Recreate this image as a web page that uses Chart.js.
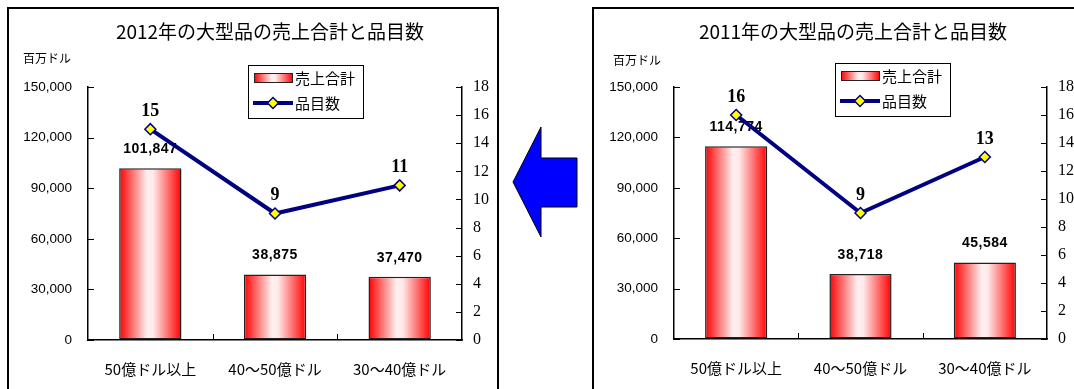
<!DOCTYPE html>
<html>
<head>
<meta charset="utf-8">
<script src="https://cdn.jsdelivr.net/npm/chart.js@4.4.1/dist/chart.umd.min.js"></script>
<style>
  html, body { margin: 0; padding: 0; background: #fff; overflow: hidden; width: 1074px; height: 389px; }
  .box { position: absolute; top: 7px; width: 488px; height: 400px; border: 2px solid #000; background: #fff; }
  .box canvas { position: absolute; left: 0; top: 0; }
  #arrow { position: absolute; left: 0; top: 0; }
</style>
</head>
<body>
<div class="box" style="left:7px"><canvas id="chart2012" width="488" height="380"></canvas></div>
<svg id="arrow" width="1074" height="389">
  <polygon points="513,182 541,127 541,158 577,158 577,207 541,207 541,237" fill="#0000ff" stroke="#000" stroke-width="1"/>
</svg>
<div class="box" style="left:592px"><canvas id="chart2011" width="488" height="380"></canvas></div>

<script>
const categories = ['50億ドル以上', '40～50億ドル', '30～40億ドル'];
const sales2012 = [101847, 38875, 37470];
const items2012 = [15, 9, 11];
const sales2011 = [114774, 38718, 45584];
const items2011 = [16, 9, 13];
const salesMax = 150000, salesStep = 30000;
const itemsMax = 18, itemsStep = 2;

const JP = '"Noto Sans CJK JP", sans-serif';

function barGradient(ctx, x0, x1) {
    const g = ctx.createLinearGradient(x0, 0, x1, 0);
    g.addColorStop(0, '#ff0000');
    g.addColorStop(0.45, '#fff0f0');
    g.addColorStop(0.55, '#ffe8e8');
    g.addColorStop(1, '#ff0000');
    return g;
}

const decor = {
    id: 'decor',
    beforeDatasetsDraw(chart) {
        // gradient fill per bar, from the bar element's own geometry
        chart.getDatasetMeta(0).data.forEach(bar => {
            bar.options = Object.assign({}, bar.options, {
                backgroundColor: barGradient(chart.ctx, bar.x - bar.width / 2, bar.x + bar.width / 2)
            });
        });
    },
    afterDatasetDraw(chart, args) {
        // bar labels go under the line
        if (args.index !== 0) return;
        const ctx = chart.ctx;
        ctx.save();
        ctx.fillStyle = '#000';
        ctx.font = 'bold 14px "Liberation Sans", Arial, sans-serif';
        ctx.letterSpacing = '0.5px';
        ctx.textAlign = 'center';
        ctx.textBaseline = 'middle';
        args.meta.data.forEach((bar, i) => {
            const v = chart.data.datasets[0].data[i];
            ctx.fillText(v.toLocaleString('en-US'), bar.x, bar.y - 19);
        });
        ctx.restore();
    },
    afterDatasetsDraw(chart, args, opts) {
        const ctx = chart.ctx;
        const { x, y, y1 } = chart.scales;
        ctx.save();

        // line labels
        ctx.fillStyle = '#000';
        ctx.font = 'bold 18px "Liberation Serif", "Times New Roman", serif';
        ctx.textAlign = 'center';
        ctx.textBaseline = 'middle';
        chart.getDatasetMeta(1).data.forEach((pt, i) => {
            ctx.fillText(String(chart.data.datasets[1].data[i]), pt.x, pt.y - 18);
        });

        // inside tick marks
        ctx.strokeStyle = '#000';
        ctx.lineWidth = 1;
        ctx.beginPath();
        y.ticks.forEach(t => {
            const py = Math.round(y.getPixelForValue(t.value)) + 0.5;
            ctx.moveTo(y.right, py); ctx.lineTo(y.right + 6, py);
        });
        y1.ticks.forEach(t => {
            const py = Math.round(y1.getPixelForValue(t.value)) + 0.5;
            ctx.moveTo(y1.left - 6, py); ctx.lineTo(y1.left, py);
        });
        for (let i = 0; i < categories.length - 1; i++) {
            const px = Math.round((x.getPixelForValue(i) + x.getPixelForValue(i + 1)) / 2) + 0.5;
            ctx.moveTo(px, x.top); ctx.lineTo(px, x.top - 6);
        }
        ctx.stroke();

        // title + unit
        ctx.font = '19px ' + JP;
        ctx.fillText(opts.title, opts.titleX, 23);
        ctx.font = '12px ' + JP;
        ctx.textAlign = 'left';
        ctx.fillText('百万ドル', opts.unitX, opts.unitY);

        // legend
        const lx = opts.legendX, ly = opts.legendY;
        ctx.fillStyle = '#fff';
        ctx.fillRect(lx, ly, 115, 53);
        ctx.strokeStyle = '#000';
        ctx.lineWidth = 1;
        ctx.strokeRect(lx + 0.5, ly + 0.5, 115, 53);

        ctx.fillStyle = barGradient(ctx, lx + 6, lx + 45);
        ctx.fillRect(lx + 6, ly + 8, 39, 10);
        ctx.strokeStyle = '#222';
        ctx.strokeRect(lx + 6.5, ly + 8.5, 38, 9);

        ctx.strokeStyle = '#000080';
        ctx.lineWidth = 4;
        ctx.beginPath();
        ctx.moveTo(lx + 5, ly + 38); ctx.lineTo(lx + 45, ly + 38);
        ctx.stroke();
        const dx = lx + 25, dy = ly + 38, r = 5.5;
        ctx.beginPath();
        ctx.moveTo(dx, dy - r); ctx.lineTo(dx + r, dy); ctx.lineTo(dx, dy + r); ctx.lineTo(dx - r, dy);
        ctx.closePath();
        ctx.fillStyle = '#ffff00';
        ctx.fill();
        ctx.lineWidth = 1.5;
        ctx.stroke();

        ctx.fillStyle = '#000';
        ctx.font = '15px ' + JP;
        ctx.textBaseline = 'middle';
        ctx.fillText('売上合計', lx + 47, ly + 13);
        ctx.fillText('品目数', lx + 47, ly + 38);

        ctx.restore();
    }
};

function makeChart(id, sales, items, opts) {
    return new Chart(document.getElementById(id), {
        type: 'bar',
        data: {
            labels: categories,
            datasets: [{
                type: 'bar',
                data: sales,
                yAxisID: 'y',
                order: 1,
                barPercentage: 0.5,
                categoryPercentage: 1,
                borderColor: '#222',
                borderWidth: 1.5,
                borderSkipped: false,
                backgroundColor: '#ff0000'
            }, {
                type: 'line',
                data: items,
                yAxisID: 'y1',
                order: 0,
                borderColor: '#000080',
                borderWidth: 4,
                tension: 0,
                pointStyle: 'rectRot',
                pointRadius: 5.5,
                pointBackgroundColor: '#ffff00',
                pointBorderColor: '#000080',
                pointBorderWidth: 1.5
            }]
        },
        options: {
            responsive: false,
            animation: false,
            events: [],
            layout: { padding: { top: 78, left: 0, right: 0, bottom: 0 } },
            plugins: {
                legend: { display: false },
                tooltip: { enabled: false },
                decor: opts
            },
            scales: {
                x: {
                    grid: { display: true, drawOnChartArea: false, drawTicks: false },
                    border: { color: '#000', width: 1.5 },
                    ticks: { color: '#000', padding: 20, maxRotation: 0, autoSkip: false, font: { family: JP, size: 15 } },
                    afterFit(s) { s.height = opts.xHeight; }
                },
                y: {
                    position: 'left',
                    min: 0, max: salesMax,
                    grid: { display: true, drawOnChartArea: false, drawTicks: false },
                    border: { color: '#000', width: 1.5 },
                    ticks: {
                        stepSize: salesStep, color: '#000', padding: 16,
                        font: { family: '"Liberation Sans", Arial, sans-serif', size: 13.5 },
                        callback: v => v.toLocaleString('en-US')
                    },
                    afterFit(s) { s.width = opts.leftW; }
                },
                y1: {
                    position: 'right',
                    min: 0, max: itemsMax,
                    grid: { display: true, drawOnChartArea: false, drawTicks: false },
                    border: { color: '#000', width: 1.5 },
                    ticks: {
                        stepSize: itemsStep, color: '#000', padding: 11,
                        font: { family: '"Liberation Serif", "Times New Roman", serif', size: 16 }
                    },
                    afterFit(s) { s.width = 35; }
                }
            }
        },
        plugins: [decor]
    });
}

makeChart('chart2012', sales2012, items2012, {
    title: '2012年の大型品の売上合計と品目数', titleX: 261,
    unitX: 14, unitY: 49, legendX: 239, legendY: 56, leftW: 79, xHeight: 49
});
makeChart('chart2011', sales2011, items2011, {
    title: '2011年の大型品の売上合計と品目数', titleX: 259,
    unitX: 19, unitY: 51, legendX: 241, legendY: 54, leftW: 80, xHeight: 50
});
</script>
</body>
</html>
